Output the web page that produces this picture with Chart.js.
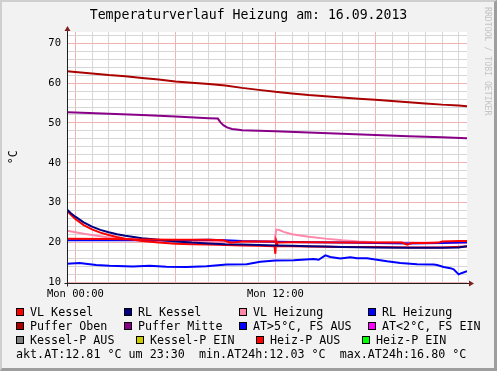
<!DOCTYPE html>
<html><head><meta charset="utf-8">
<script src="https://cdn.jsdelivr.net/npm/chart.js@4.4.0/dist/chart.umd.min.js"></script>
<style>
html,body{margin:0;padding:0;background:#f2f2f2;}
#wrap{position:relative;width:497px;height:371px;overflow:hidden;background:#f2f2f2;}
#frame{position:absolute;left:0;top:0;width:497px;height:371px;box-sizing:border-box;border-top:2px solid #cfcfcf;border-left:2px solid #cfcfcf;border-right:3px solid #9e9e9e;border-bottom:3px solid #9e9e9e;pointer-events:none;}
canvas{position:absolute;left:0;top:0;}
.lg{position:absolute;font-family:"DejaVu Sans Mono",monospace;font-size:11.7px;line-height:14px;white-space:pre;color:#000;}
.sq{position:absolute;width:6px;height:6px;border:1px solid #000;}
#wm{position:absolute;left:483px;top:7px;writing-mode:vertical-rl;font-family:"DejaVu Sans Mono",monospace;font-size:8.2px;color:#c4c4c4;line-height:10px;white-space:pre;}
</style></head><body>
<div id="wrap"><canvas id="c" width="497" height="371" style="width:497px;height:371px"></canvas><div id="legend"></div><div id="wm">RRDTOOL / TOBI OETIKER</div><div id="frame"></div></div>
<script>
// ---- data (hours relative to Mon 00:00) ----
const chartTitle = 'Temperaturverlauf Heizung am: 16.09.2013';
const yAxisTitle = '°C';
const xTickHours = [0, 12];
const xTickLabels = ['Mon 00:00', 'Mon 12:00'];
const yTickValues = [10, 20, 30, 40, 50, 60, 70];

const pufferObenT = [-0.5,0,1,2,3,4,5,6,7,8,9,10,11,12,13,14,15,16,17,18,19,20,21,22,23,23.5];
const pufferOben  = [63.0,62.8,62.4,62.0,61.7,61.3,60.9,60.4,60.1,59.8,59.4,58.8,58.3,57.8,57.4,57.0,56.7,56.4,56.1,55.8,55.5,55.2,54.9,54.6,54.4,54.2];

const pufferMitteT = [-0.5,0,2,4,6,8,8.55,8.7,8.9,9.1,9.4,9.8,10,12,14,16,18,20,22,23.5];
const pufferMitte  = [52.7,52.6,52.3,52.0,51.6,51.2,51.1,50.2,49.4,48.9,48.5,48.3,48.2,47.9,47.6,47.3,47.0,46.7,46.4,46.2];

const rlKesselT = [-0.5,-0.25,0,0.5,1,1.5,2,2.5,3,4,5,6,7,8,9,10,11,12,13,14,15,16,18,20,22,23,23.5];
const rlKessel  = [28.3,27.3,26.5,25.1,24.0,23.2,22.6,22.1,21.7,21.1,20.7,20.3,20.0,19.8,19.6,19.5,19.4,19.3,19.2,19.1,19.0,18.9,18.8,18.7,18.7,18.8,19.1];

const vlKesselT = [-0.5,-0.25,0,0.5,1,1.5,2,2.5,3,4,5,6,7,8,9,10,11,11.95,12.0,12.05,12.15,13,14,16,18,20,22,23.5];
const vlKessel  = [28.0,26.9,25.9,24.4,23.3,22.5,21.9,21.4,21.0,20.4,20.0,19.7,19.6,19.5,19.4,19.3,19.2,19.1,17.2,20.5,19.1,19.1,19.0,18.9,18.9,18.8,18.8,19.0];

const vlHeizungT = [-0.5,0,0.5,1,2,3,4,5,6,8,10,11.95,12.05,12.2,12.5,13,14,15,16,17,18,20,22,23.5];
const vlHeizung  = [23.0,22.6,22.2,21.9,21.3,20.9,20.6,20.4,20.3,20.2,20.2,20.2,23.2,23.2,22.7,22.1,21.5,21.0,20.6,20.3,20.1,20.0,19.9,19.9];

const rlHeizungT = [-0.5,2,4,6,8,9,10,12,14,16,18,20,22,23.5];
const rlHeizung  = [20.6,20.6,20.6,20.6,20.7,20.6,20.4,20.2,20.1,20.0,19.9,19.8,19.9,20.1];

const heizPAusT = [-0.5,2,4,6,8,8.9,9.3,9.6,10,11,11.9,12.1,13,14,16,18,19.6,19.9,20.2,21,21.8,22,23,23.5];
const heizPAus  = [21.0,20.9,20.8,20.7,20.7,20.6,20.0,20.1,20.3,20.3,20.3,20.0,20.1,20.1,20.0,20.0,20.0,19.5,19.9,19.9,20.0,20.3,20.4,20.4];

const aussenT = [-0.5,0.25,1.25,2.05,3.45,4.46,5.46,6.67,7.87,9.08,10.28,11.1,12.0,13.1,14.3,14.6,15.0,15.3,15.9,16.5,16.9,17.5,18.1,18.7,19.5,20.5,21.5,21.7,22.1,22.5,22.7,23.0,23.2,23.5];
const aussen  = [14.7,14.9,14.4,14.2,14.0,14.2,13.95,13.9,14.1,14.5,14.6,15.2,15.5,15.6,15.9,15.7,16.8,16.4,16.05,16.3,16.1,16.1,15.7,15.3,14.9,14.6,14.5,14.4,13.9,13.6,13.3,12.03,12.4,12.81];

const legendNames = [
  ['VL Kessel','RL Kessel','VL Heizung','RL Heizung'],
  ['Puffer Oben','Puffer Mitte','AT>5°C, FS AUS','AT<2°C, FS EIN'],
  ['Kessel-P AUS','Kessel-P EIN','Heiz-P AUS','Heiz-P EIN']
];
const legendColors = [
  ['#ff0000','#000080','#ff88aa','#0000ff'],
  ['#aa0000','#880088','#0000ff','#ff00ff'],
  ['#808080','#cccc00','#ff0000','#00ff00']
];
// ---- layout (styles only) ----
const legendTextX = [[30,138,253,382],[30,138,253,382],[30,150,270,376]];
const legendRowTop = [304.5,318.5,332.5,346.5];

const pts = (xs, ys) => xs.map((x, i) => ({x, y: ys[i]}));
const lineDs = (label, xs, ys, color, order) => ({label, data: pts(xs, ys), borderColor: color, backgroundColor: color, borderWidth: 2, pointRadius: 0, tension: 0, fill: false, order});

const datasets = [
  lineDs('AT', aussenT, aussen, '#0000ff', 9),
  lineDs('Puffer Mitte', pufferMitteT, pufferMitte, '#880088', 8),
  lineDs('Puffer Oben', pufferObenT, pufferOben, '#aa0000', 7),
  lineDs('VL Heizung', vlHeizungT, vlHeizung, '#ff88aa', 6),
  lineDs('RL Heizung', rlHeizungT, rlHeizung, '#0000ff', 5),
  lineDs('VL Kessel', vlKesselT, vlKessel, '#ff0000', 4),
  lineDs('RL Kessel', rlKesselT, rlKessel, '#000080', 3),
  lineDs('Heiz-P AUS', heizPAusT, heizPAus, '#ff0000', 2)
];

const xGrid = []; for (let h = 0; h <= 23; h++) xGrid.push(h);
const yGrid = []; for (let v = 10; v <= 72; v += 2) yGrid.push(v);

const MONO = 'DejaVu Sans Mono';
const minorCol = '#d6d6d6', majorCol = '#f2b2b2';

const framePlugin = {
  id: 'framePlugin',
  beforeDraw(chart) {
    const {ctx, chartArea: a} = chart;
    ctx.save(); ctx.fillStyle = '#ffffff';
    ctx.fillRect(a.left, a.top, a.right - a.left, a.bottom - a.top);
    ctx.restore();
  },
  afterDraw(chart) {
    const {ctx, chartArea: a} = chart;
    const x0 = Math.round(a.left) + 0.5, y0 = Math.round(a.bottom) + 0.5;
    ctx.save();
    ctx.strokeStyle = '#1f1f1f'; ctx.lineWidth = 1;
    ctx.beginPath();
    ctx.moveTo(x0, y0 + 3); ctx.lineTo(x0, a.top - 4);
    ctx.moveTo(x0 - 3, y0); ctx.lineTo(a.right + 4, y0);
    ctx.stroke();
    ctx.fillStyle = '#7f1f1f';
    ctx.beginPath();
    ctx.moveTo(x0, a.top - 6); ctx.lineTo(x0 - 3, a.top - 1); ctx.lineTo(x0 + 3, a.top - 1); ctx.closePath(); ctx.fill();
    ctx.beginPath();
    ctx.moveTo(a.right + 7, y0); ctx.lineTo(a.right + 2, y0 - 3); ctx.lineTo(a.right + 2, y0 + 3); ctx.closePath(); ctx.fill();
    ctx.restore();
  }
};

new Chart(document.getElementById('c'), {
  type: 'line',
  data: {datasets},
  options: {
    responsive: false, animation: false,
    layout: {padding: {left: 0, right: 0, top: 0, bottom: 0}},
    plugins: {
      legend: {display: false}, tooltip: {enabled: false},
      title: {display: true, text: chartTitle, color: '#000', font: {family: MONO, size: 13.2, weight: 'normal', lineHeight: 1.2}, padding: {top: 8, bottom: 8.2}}
    },
    scales: {
      x: {
        type: 'linear', min: -0.5, max: 23.5,
        afterBuildTicks: s => { s.ticks = xGrid.map(v => ({value: v})); },
        afterFit: s => { s.height = 88.5; },
        ticks: {autoSkip: false, maxRotation: 0, padding: 5, color: '#000', font: {family: MONO, size: 10.5},
          callback: v => { const i = xTickHours.indexOf(v); return i >= 0 ? xTickLabels[i] : ''; }},
        grid: {drawTicks: false, lineWidth: 1, color: c => (c.tick && c.tick.value % 6 === 0) ? majorCol : minorCol},
        border: {display: false}
      },
      y: {
        type: 'linear', min: 10, max: 72.8,
        afterBuildTicks: s => { s.ticks = yGrid.map(v => ({value: v})); },
        afterFit: s => { s.width = 67; },
        ticks: {autoSkip: false, padding: 6, color: '#000', font: {family: MONO, size: 10.5},
          callback: v => yTickValues.includes(v) ? String(v) : ''},
        grid: {drawTicks: false, lineWidth: 1, color: c => (c.tick && c.tick.value % 10 === 0) ? majorCol : minorCol},
        border: {display: false},
        title: {display: true, text: yAxisTitle, color: '#000', font: {family: MONO, size: 11.5}, padding: {top: 7, bottom: 0}}
      },
      yRight: {
        type: 'linear', position: 'right', display: true,
        afterFit: s => { s.width = 30; },
        ticks: {display: false},
        grid: {display: false, drawOnChartArea: false},
        border: {display: false}
      }
    }
  },
  plugins: [framePlugin]
});

// ---- legend (HTML text) ----
const lg = document.getElementById('legend');
legendNames.forEach((row, r) => row.forEach((name, c) => {
  const tx = legendTextX[r][c];
  const sq = document.createElement('div');
  sq.className = 'sq';
  sq.style.left = (tx - 14) + 'px';
  sq.style.top = (legendRowTop[r] + 3.2) + 'px';
  sq.style.background = legendColors[r][c];
  lg.appendChild(sq);
  const t = document.createElement('div');
  t.className = 'lg';
  t.style.left = tx + 'px';
  t.style.top = legendRowTop[r] + 'px';
  t.textContent = name;
  lg.appendChild(t);
}));
const akt = aussen[aussen.length - 1], mn = Math.min(...aussen), mx = Math.max(...aussen);
const foot = document.createElement('div');
foot.className = 'lg';
foot.style.left = '16px';
foot.style.top = legendRowTop[3] + 'px';
foot.textContent = 'akt.AT:' + akt.toFixed(2) + ' °C um 23:30  min.AT24h:' + mn.toFixed(2) + ' °C  max.AT24h:' + mx.toFixed(2) + ' °C';
lg.appendChild(foot);
</script>
</body></html>
